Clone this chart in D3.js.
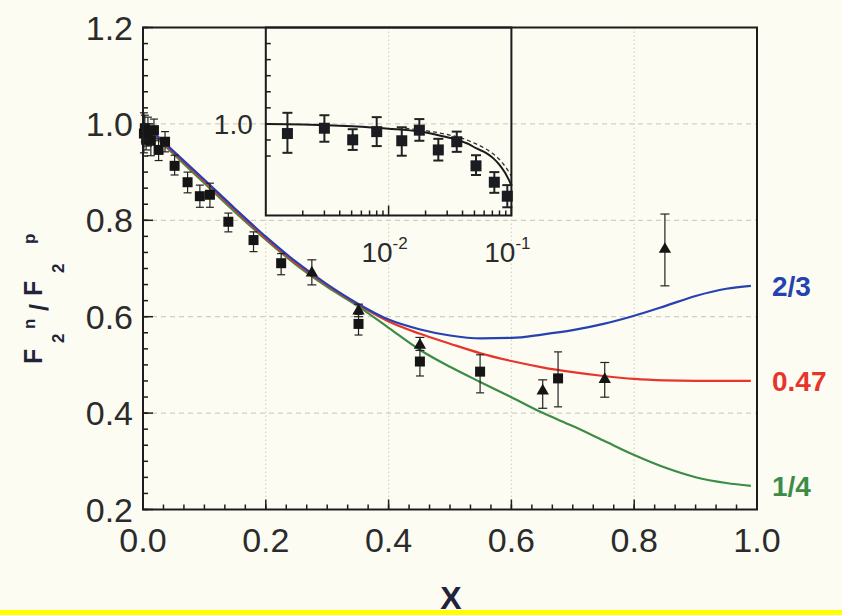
<!DOCTYPE html>
<html><head><meta charset="utf-8">
<script src="https://cdn.jsdelivr.net/npm/d3@7"></script>
<style>
html,body{margin:0;padding:0;background:#fcfcf3;}
svg{display:block;}
text{font-family:"Liberation Sans",Arial,Helvetica,sans-serif;}
</style></head><body>
<svg id="chart" width="842" height="615"></svg>
<script>
// Model curves: F2n/F2p vs x for three limits at x -> 1
const curveX   = [0, 0.05, 0.1, 0.15, 0.2, 0.25, 0.3, 0.35, 0.4, 0.45, 0.5, 0.55, 0.6, 0.65, 0.7, 0.75, 0.8, 0.85, 0.9, 0.95, 0.99];
const curve23  = [1.003, 0.943, 0.884, 0.824, 0.766, 0.713, 0.667, 0.627, 0.594, 0.574, 0.561, 0.555, 0.556, 0.563, 0.572, 0.585, 0.602, 0.622, 0.643, 0.658, 0.664];
const curve047 = [1.000, 0.940, 0.881, 0.821, 0.763, 0.710, 0.665, 0.625, 0.590, 0.565, 0.544, 0.524, 0.508, 0.495, 0.485, 0.477, 0.471, 0.468, 0.467, 0.467, 0.467];
const curve14  = [0.998, 0.937, 0.877, 0.817, 0.760, 0.707, 0.662, 0.622, 0.577, 0.532, 0.496, 0.464, 0.433, 0.401, 0.373, 0.343, 0.313, 0.287, 0.267, 0.255, 0.249];
const curveNames  = ["1/4", "0.47", "2/3"];
const curveColors = ["#3c8c46", "#e8352c", "#2641b0"];

// Square data points with asymmetric error bars
const sqX  = [0.0015, 0.0030, 0.0051, 0.0080, 0.0128, 0.0178, 0.0254, 0.0359, 0.0515, 0.0726, 0.0926, 0.109, 0.139, 0.180, 0.225, 0.351, 0.451, 0.549, 0.676];
const sqY  = [0.980, 0.991, 0.967, 0.984, 0.965, 0.987, 0.946, 0.963, 0.913, 0.879, 0.850, 0.853, 0.797, 0.759, 0.711, 0.585, 0.507, 0.486, 0.472];
const sqHi = [1.023, 1.018, 0.989, 1.014, 0.993, 1.010, 0.969, 0.984, 0.935, 0.900, 0.873, 0.877, 0.815, 0.776, 0.731, 0.605, 0.537, 0.521, 0.527];
const sqLo = [0.940, 0.963, 0.946, 0.954, 0.934, 0.965, 0.924, 0.942, 0.894, 0.857, 0.827, 0.827, 0.776, 0.735, 0.687, 0.562, 0.477, 0.442, 0.413];

// Triangle data points
const triX  = [0.275, 0.351, 0.451, 0.651, 0.752, 0.850];
const triY  = [0.693, 0.614, 0.543, 0.448, 0.472, 0.742];
const triHi = [0.718, 0.626, 0.557, 0.469, 0.505, 0.813];
const triLo = [0.666, 0.600, 0.530, 0.410, 0.433, 0.664];

// Inset (log x) fit curves
const insetSolidX = [0.001, 0.002, 0.005, 0.01, 0.018, 0.027, 0.036, 0.045, 0.052, 0.062, 0.071, 0.080, 0.088, 0.094, 0.1];
const insetSolidY = [1.000, 0.999, 0.995, 0.990, 0.984, 0.975, 0.967, 0.958, 0.949, 0.940, 0.929, 0.915, 0.900, 0.887, 0.873];
const insetDashX  = [0.012, 0.02, 0.03, 0.04, 0.05, 0.06, 0.07, 0.08, 0.09, 0.1];
const insetDashY  = [0.992, 0.986, 0.978, 0.970, 0.960, 0.950, 0.939, 0.926, 0.910, 0.892];

// Axis ticks and labels
const xMajor = [0, 0.2, 0.4, 0.6, 0.8, 1.0];
const xMajorLabels = ["0.0", "0.2", "0.4", "0.6", "0.8", "1.0"];
const yMajor = [0.2, 0.4, 0.6, 0.8, 1.0, 1.2];
const yMajorLabels = ["0.2", "0.4", "0.6", "0.8", "1.0", "1.2"];
const gridX = [0.2, 0.4, 0.6, 0.8];
const gridY = [0.4, 0.6, 0.8, 1.0];
const insetXMajor = [0.01, 0.1];
const insetXExp = ["-2", "-1"];
const insetYMajor = [1.0];
const insetYLabels = ["1.0"];

const svg = d3.select("#chart");
svg.append("rect").attr("width", 842).attr("height", 615).attr("fill", "#fcfcf3");

const x = d3.scaleLinear().domain([0, 1]).range([143, 757]);
const y = d3.scaleLinear().domain([0.2, 1.2]).range([509.5, 27.5]);

// inset scales share the grid of the main plot
const xi = d3.scaleLog().domain([0.001, 0.1]).range([x(0.2), x(0.6)]);
const yi = d3.scaleLinear().domain([0.81, 1.2]).range([y(0.81), y(1.2)]);

const ink = "#1c1c1c";
const labelInk = "#2b2b2b";

// grid
const grid = svg.append("g");
grid.selectAll("line.gx").data(gridX).join("line")
  .attr("x1", d => x(d)).attr("x2", d => x(d)).attr("y1", y(1.2)).attr("y2", y(0.2))
  .attr("stroke", "#d8d6b8").attr("stroke-width", 1.2).attr("stroke-dasharray", "1.5,2.5");
grid.selectAll("line.gy").data(gridY).join("line")
  .attr("x1", x(0)).attr("x2", x(1)).attr("y1", d => y(d)).attr("y2", d => y(d))
  .attr("stroke", "#cfcfc4").attr("stroke-width", 1.2).attr("stroke-dasharray", "5,4");

// model curves
const series = [curve14, curve047, curve23];
const line = d3.line().x((d, i) => x(curveX[i])).y(d => y(d)).curve(d3.curveMonotoneX);
series.forEach((s, k) => {
  svg.append("path").attr("d", line(s)).attr("fill", "none")
    .attr("stroke", curveColors[k]).attr("stroke-width", 2.2);
});

// error bars helper
function errBars(g, xs, lo, hi, sx, sy, cap, w, color) {
  g.selectAll(null).data(xs).join("line")
    .attr("x1", d => sx(d)).attr("x2", d => sx(d))
    .attr("y1", (d, i) => sy(lo[i])).attr("y2", (d, i) => sy(hi[i]))
    .attr("stroke", color).attr("stroke-width", w);
  [lo, hi].forEach(arr => {
    g.selectAll(null).data(xs).join("line")
      .attr("x1", d => sx(d) - cap / 2).attr("x2", d => sx(d) + cap / 2)
      .attr("y1", (d, i) => sy(arr[i])).attr("y2", (d, i) => sy(arr[i]))
      .attr("stroke", color).attr("stroke-width", w);
  });
}

// main data
const dataG = svg.append("g");
errBars(dataG, sqX, sqLo, sqHi, x, y, 8, 1.2, "#222");
errBars(dataG, triX, triLo, triHi, x, y, 9, 1.2, "#222");
const sq = 10;
dataG.selectAll("rect.sq").data(sqX).join("rect")
  .attr("x", d => x(d) - sq / 2).attr("y", (d, i) => y(sqY[i]) - sq / 2)
  .attr("width", sq).attr("height", sq).attr("fill", "#151515");
const tri = d3.symbol().type(d3.symbolTriangle).size(66);
dataG.selectAll("path.tri").data(triX).join("path")
  .attr("d", tri).attr("transform", (d, i) => `translate(${x(d)},${y(triY[i]) + 1})`)
  .attr("fill", "#151515");

// inset
const inset = svg.append("g");
const iL = xi.range()[0], iR = xi.range()[1], iT = yi.range()[1], iB = yi.range()[0];
const insX = sqX.filter(v => v <= 0.1);
const insIdx = insX.map(v => sqX.indexOf(v));
errBars(inset, insX, insIdx.map(i => sqLo[i]), insIdx.map(i => sqHi[i]), xi, yi, 10, 2, "#222");
const lineI = (xs) => d3.line().x((d, i) => xi(xs[i])).y(d => yi(d)).curve(d3.curveMonotoneX);
inset.append("path").attr("d", lineI(insetSolidX)(insetSolidY)).attr("fill", "none")
  .attr("stroke", "#1a1a1a").attr("stroke-width", 2);
inset.append("path").attr("d", lineI(insetDashX)(insetDashY)).attr("fill", "none")
  .attr("stroke", "#333").attr("stroke-width", 1.3).attr("stroke-dasharray", "4,3");
const isq = 11;
inset.selectAll("rect.isq").data(insX).join("rect")
  .attr("x", d => xi(d) - isq / 2).attr("y", (d, i) => yi(sqY[insIdx[i]]) - isq / 2)
  .attr("width", isq).attr("height", isq).attr("fill", "#1b1b22");
inset.append("rect").attr("x", iL).attr("y", iT).attr("width", iR - iL).attr("height", iB - iT)
  .attr("fill", "none").attr("stroke", ink).attr("stroke-width", 2);

// inset ticks
const iyMinor = d3.range(-5, 3).map(k => 1.0 - k / 30).filter(v => v > 0.81 && v < 1.2);
inset.selectAll("line.iyt").data(iyMinor).join("line")
  .attr("x1", iL).attr("x2", iL + 5).attr("y1", d => yi(d)).attr("y2", d => yi(d))
  .attr("stroke", ink).attr("stroke-width", 1.5);
const ixMinor = [];
[0.001, 0.01].forEach(dec => { for (let m = 2; m <= 9; m++) ixMinor.push(dec * m); });
inset.selectAll("line.ixt").data(ixMinor).join("line")
  .attr("x1", d => xi(d)).attr("x2", d => xi(d)).attr("y1", iB).attr("y2", iB - 5)
  .attr("stroke", ink).attr("stroke-width", 1.5);
inset.selectAll("line.ixM").data(insetXMajor).join("line")
  .attr("x1", d => xi(d)).attr("x2", d => xi(d)).attr("y1", iB).attr("y2", iB - 10)
  .attr("stroke", ink).attr("stroke-width", 1.5);
inset.selectAll("text.iyl").data(insetYMajor).join("text")
  .attr("x", iL - 13).attr("y", d => yi(d) + 10).attr("text-anchor", "end")
  .attr("font-size", 28).attr("fill", labelInk).text((d, i) => insetYLabels[i]);
insetXMajor.forEach((d, i) => {
  const t = inset.append("text").attr("x", xi(d) - 4).attr("y", iB + 47)
    .attr("text-anchor", "middle").attr("font-size", 28).attr("fill", labelInk);
  t.append("tspan").text("10");
  t.append("tspan").attr("font-size", 17).attr("dy", -13).text(insetXExp[i]);
});

// main frame
svg.append("rect").attr("x", x(0)).attr("y", y(1.2)).attr("width", x(1) - x(0)).attr("height", y(0.2) - y(1.2))
  .attr("fill", "none").attr("stroke", ink).attr("stroke-width", 2);

// main ticks
const minorX = d3.range(0, 31).map(k => k / 30);
const minorY = d3.range(0, 31).map(k => 0.2 + k / 30);
const ticks = svg.append("g").attr("stroke", ink).attr("stroke-width", 1.5);
ticks.selectAll("line.mx").data(minorX).join("line")
  .attr("x1", d => x(d)).attr("x2", d => x(d)).attr("y1", y(0.2)).attr("y2", y(0.2) - 5);
ticks.selectAll("line.Mx").data(xMajor).join("line")
  .attr("x1", d => x(d)).attr("x2", d => x(d)).attr("y1", y(0.2)).attr("y2", y(0.2) - 10);
ticks.selectAll("line.my").data(minorY).join("line")
  .attr("x1", x(0)).attr("x2", x(0) + 5).attr("y1", d => y(d)).attr("y2", d => y(d));
ticks.selectAll("line.My").data(yMajor).join("line")
  .attr("x1", x(0)).attr("x2", x(0) + 10).attr("y1", d => y(d)).attr("y2", d => y(d));

// tick labels
svg.selectAll("text.xl").data(xMajor).join("text")
  .attr("x", d => x(d)).attr("y", y(0.2) + 42).attr("text-anchor", "middle")
  .attr("font-size", 34).attr("fill", labelInk).text((d, i) => xMajorLabels[i]);
svg.selectAll("text.yl").data(yMajor).join("text")
  .attr("x", x(0) - 10).attr("y", d => y(d) + 12).attr("text-anchor", "end")
  .attr("font-size", 34).attr("fill", labelInk).text((d, i) => yMajorLabels[i]);

// curve end labels
const ends = [curve14, curve047, curve23].map(s => s[s.length - 1]);
svg.selectAll("text.cl").data(ends).join("text")
  .attr("x", 772).attr("y", d => y(d) + 10)
  .attr("font-size", 28).attr("font-weight", "bold")
  .attr("fill", (d, i) => curveColors[i]).text((d, i) => curveNames[i]);

// axis titles
const titleInk = "#22223a";
svg.append("text").attr("x", 451).attr("y", 609).attr("text-anchor", "middle")
  .attr("font-size", 32).attr("font-weight", "bold").attr("fill", titleInk).text("X");

const yt = svg.append("g").attr("transform", "translate(42,0) rotate(-90)")
  .attr("fill", titleInk).attr("font-weight", "bold");
const ytParts = [
  { t: "F", px: 364, dy: 0, fs: 25 },
  { t: "2", px: 343, dy: 22, fs: 17 },
  { t: "n", px: 329, dy: -7, fs: 17 },
  { t: "/", px: 311, dy: 6, fs: 25 },
  { t: "F", px: 296, dy: 0, fs: 25 },
  { t: "2", px: 273, dy: 22, fs: 17 },
  { t: "p", px: 244, dy: -7, fs: 17 }
];
ytParts.forEach(p => {
  yt.append("text").attr("x", -p.px).attr("y", p.dy).attr("font-size", p.fs).text(p.t);
});

// bottom strip
svg.append("rect").attr("x", 0).attr("y", 610).attr("width", 842).attr("height", 5).attr("fill", "#ffff00");
</script>
</body></html>
